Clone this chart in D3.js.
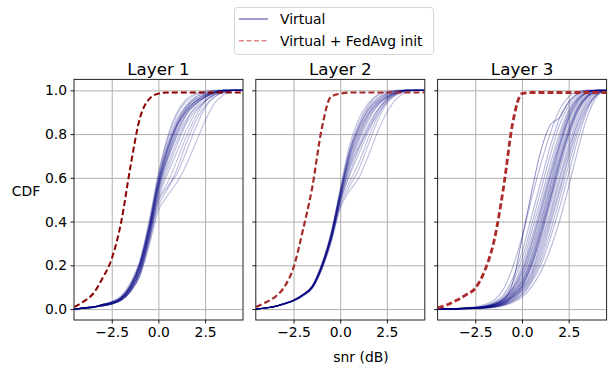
<!DOCTYPE html>
<html>
<head>
<meta charset="utf-8">
<script src="https://cdn.jsdelivr.net/npm/d3@7"></script>
<style>
  body { margin: 0; background: #fff; }
  svg { display: block; font-family: "DejaVu Sans", sans-serif; }
</style>
</head>
<body>
<div class="svg-target"></div>
<script>
// x grid shared by every curve (snr in dB)
const snrGrid = [-4.5, -4, -3.5, -3, -2.5, -2, -1.5, -1, -0.5, 0, 0.5, 1, 1.5, 2, 2.5, 3, 3.5, 4, 4.5];
const layerTitles = ['Layer 1', 'Layer 2', 'Layer 3'];
const xTicks = [-2.5, 0, 2.5];
const yTicks = [0, 0.2, 0.4, 0.6, 0.8, 1.0];
const legendLabels = ['Virtual', 'Virtual + FedAvg init'];

// CDF curves, "Virtual" runs
const virtualL1 = [
  [0,.005,.01,.02,.03,.05,.10,.19,.36,.57,.72,.84,.91,.95,.97,.985,.995,1,1],
  [0,.005,.01,.02,.035,.06,.12,.22,.40,.62,.79,.90,.96,.985,.995,1,1,1,1],
  [0,.005,.01,.02,.03,.05,.11,.21,.38,.60,.76,.87,.93,.97,.985,.995,1,1,1],
  [0,.004,.008,.015,.025,.045,.09,.18,.34,.55,.70,.81,.89,.94,.97,.99,1,1,1],
  [0,.004,.008,.015,.025,.045,.09,.17,.33,.53,.66,.77,.86,.93,.97,.99,1,1,1],
  [0,.004,.008,.015,.025,.04,.08,.16,.31,.49,.56,.62,.72,.83,.92,.97,.99,1,1],
  [0,.004,.008,.015,.025,.04,.08,.16,.32,.50,.58,.68,.79,.88,.95,.98,.995,1,1],
  [0,.005,.01,.02,.03,.05,.10,.20,.37,.58,.74,.85,.92,.96,.98,.99,1,1,1],
  [0,.005,.01,.02,.03,.05,.10,.19,.35,.56,.69,.79,.87,.92,.96,.985,.995,1,1],
  [0,.004,.008,.015,.025,.045,.09,.17,.32,.51,.62,.72,.82,.90,.95,.98,.995,1,1],
  [0,.005,.01,.02,.03,.055,.11,.21,.39,.61,.78,.89,.95,.98,.99,1,1,1,1],
  [0,.004,.008,.015,.025,.04,.085,.17,.33,.52,.64,.75,.85,.91,.95,.98,.99,1,1],
  [0,.005,.01,.02,.03,.05,.10,.20,.37,.58,.73,.85,.92,.96,.98,.99,1,1,1],
  [0,.004,.008,.015,.025,.045,.09,.18,.34,.54,.68,.80,.89,.94,.97,.99,1,1,1],
  [0,.004,.008,.014,.022,.04,.08,.15,.30,.47,.55,.64,.76,.86,.93,.97,.99,1,1],
  [0,.005,.01,.02,.03,.05,.10,.20,.36,.57,.71,.83,.91,.95,.98,.99,1,1,1],
  [0,.005,.01,.02,.03,.05,.105,.20,.37,.59,.75,.86,.93,.97,.985,.995,1,1,1],
  [0,.004,.008,.015,.025,.045,.09,.18,.35,.55,.70,.82,.90,.95,.975,.99,1,1,1],
  [0,.004,.008,.014,.022,.04,.08,.15,.29,.45,.52,.58,.66,.76,.86,.94,.98,1,1],
  [0,.005,.01,.02,.03,.05,.10,.19,.35,.56,.73,.84,.91,.95,.975,.99,1,1,1],
  [0,.005,.01,.02,.032,.055,.11,.21,.38,.59,.74,.84,.90,.94,.97,.99,1,1,1]
];

const virtualL2 = [
  [0,.005,.012,.025,.04,.065,.10,.19,.325,.515,.69,.80,.89,.945,.975,.99,1,1,1],
  [0,.005,.012,.025,.04,.066,.105,.20,.34,.54,.73,.85,.93,.975,.99,1,1,1,1],
  [0,.005,.012,.025,.04,.066,.105,.20,.335,.53,.71,.83,.91,.96,.985,.995,1,1,1],
  [0,.005,.012,.024,.039,.064,.10,.19,.32,.50,.66,.77,.86,.93,.97,.99,1,1,1],
  [0,.005,.011,.023,.037,.06,.095,.18,.31,.47,.56,.64,.75,.86,.94,.98,.995,1,1],
  [0,.005,.011,.023,.038,.062,.097,.185,.315,.49,.61,.71,.81,.90,.96,.985,1,1,1],
  [0,.005,.012,.025,.04,.065,.10,.19,.33,.52,.70,.82,.90,.95,.98,.995,1,1,1],
  [0,.005,.012,.025,.041,.067,.107,.205,.345,.55,.75,.87,.94,.98,.995,1,1,1,1],
  [0,.005,.011,.023,.037,.06,.095,.18,.30,.46,.54,.60,.70,.81,.90,.96,.99,1,1],
  [0,.005,.012,.024,.039,.063,.10,.19,.32,.50,.65,.75,.84,.91,.96,.985,.995,1,1],
  [0,.005,.012,.025,.04,.065,.10,.19,.33,.52,.68,.79,.88,.94,.97,.99,1,1,1],
  [0,.005,.012,.025,.04,.066,.103,.195,.335,.53,.72,.84,.92,.965,.985,.995,1,1,1],
  [0,.005,.011,.024,.038,.062,.098,.185,.315,.49,.62,.73,.83,.91,.96,.99,1,1,1],
  [0,.005,.012,.025,.04,.065,.10,.19,.325,.51,.67,.78,.87,.93,.97,.99,1,1,1],
  [0,.005,.011,.023,.037,.06,.096,.18,.305,.48,.58,.67,.78,.88,.95,.985,1,1,1],
  [0,.005,.012,.025,.04,.066,.104,.20,.34,.535,.72,.83,.91,.955,.98,.995,1,1,1],
  [0,.005,.012,.024,.039,.064,.10,.19,.32,.50,.64,.74,.82,.89,.95,.98,.995,1,1],
  [0,.005,.012,.025,.04,.065,.10,.195,.33,.52,.70,.81,.89,.94,.97,.99,1,1,1]
];

const virtualL3 = [
  [0,0,.003,.006,.01,.02,.04,.09,.19,.33,.50,.66,.80,.91,.97,.995,1,1,1],
  [0,0,.002,.005,.008,.015,.03,.065,.14,.26,.42,.58,.74,.87,.95,.985,1,1,1],
  [0,0,.002,.004,.007,.013,.027,.055,.12,.23,.38,.54,.70,.84,.93,.98,1,1,1],
  [0,0,.002,.004,.007,.012,.025,.05,.10,.20,.35,.50,.66,.80,.91,.97,.995,1,1],
  [0,0,.002,.004,.006,.011,.023,.047,.095,.18,.32,.47,.63,.78,.90,.965,.99,1,1],
  [0,0,.002,.004,.006,.011,.022,.045,.09,.17,.30,.45,.61,.76,.89,.96,.99,1,1],
  [0,0,.002,.004,.006,.01,.02,.04,.08,.15,.27,.42,.58,.74,.87,.95,.99,1,1],
  [0,0,.002,.003,.005,.01,.019,.038,.075,.14,.26,.40,.56,.73,.87,.95,.99,1,1],
  [0,0,.002,.003,.005,.009,.018,.035,.07,.13,.24,.39,.55,.71,.85,.94,.985,1,1],
  [0,0,.001,.003,.005,.008,.016,.032,.065,.12,.22,.36,.52,.68,.82,.92,.975,.995,1],
  [0,0,.001,.003,.005,.008,.015,.03,.06,.11,.21,.35,.50,.66,.80,.91,.97,.995,1],
  [0,0,.001,.003,.004,.008,.014,.028,.058,.105,.20,.33,.49,.65,.80,.91,.97,.995,1],
  [0,0,.001,.003,.004,.007,.013,.027,.055,.10,.19,.32,.47,.63,.78,.90,.97,.995,1],
  [0,0,.001,.002,.004,.007,.012,.025,.05,.095,.17,.30,.44,.60,.75,.88,.96,.99,1],
  [0,0,.001,.002,.004,.006,.012,.024,.05,.09,.16,.28,.42,.58,.73,.86,.95,.99,1],
  [0,0,.001,.002,.003,.006,.011,.022,.045,.085,.15,.26,.40,.55,.71,.85,.94,.985,1],
  [0,0,.001,.002,.003,.005,.01,.02,.04,.08,.14,.24,.38,.53,.69,.83,.93,.98,1],
  [0,0,.001,.002,.003,.005,.01,.019,.038,.07,.13,.22,.35,.50,.66,.81,.92,.98,1],
  [0,0,.001,.002,.003,.005,.009,.018,.035,.065,.12,.20,.32,.46,.62,.78,.91,.98,1],
  [0,0,.001,.002,.003,.004,.008,.015,.03,.055,.10,.17,.27,.40,.56,.73,.88,.97,1],
  [0,0,.002,.004,.006,.011,.021,.043,.085,.16,.29,.44,.60,.75,.88,.96,.99,1,1],
  [0,0,.001,.003,.005,.009,.017,.034,.068,.125,.23,.37,.53,.69,.83,.93,.98,1,1],
  [0,0,.001,.003,.004,.008,.014,.029,.06,.11,.20,.34,.50,.67,.81,.92,.975,.995,1]
];
// one run in layer 3 that stands out from the bundle
const virtualL3Outlier = [0,0,.002,.004,.006,.01,.02,.04,.12,.32,.53,.72,.84,.875,.945,.985,.995,1,1];

// CDF curves, "Virtual + FedAvg init"
const fedavgL1 = [.01,.035,.07,.14,.23,.395,.65,.87,.96,.985,.99,.99,.99,.99,.99,.99,.99,.99,.99];
const fedavgL2 = [.01,.03,.055,.10,.19,.36,.555,.82,.97,.985,.99,.99,.99,.99,.99,.99,.99,.99,.99];
const fedavgL3 = [.005,.02,.04,.065,.095,.175,.31,.55,.85,.985,.99,.99,.99,.99,.99,.99,.99,.99,.99];

const panels = [
    { title: layerTitles[0], virtual: virtualL1, fedavg: fedavgL1 },
    { title: layerTitles[1], virtual: virtualL2, fedavg: fedavgL2 },
    { title: layerTitles[2], virtual: virtualL3, fedavg: fedavgL3, outlier: virtualL3Outlier }
];

const w = 611;
const h = 371;
const panelW = 169;
const panelTop = 79.4;
const panelBottom = 320;
const panelLefts = [74, 255.8, 437.6];
const fedColors = ['#8b0000', '#a52a2a', '#ad2a2a'];
const fedWidths = [2, 2.2, 2.8];
const virtualOpacity = [0.24, 0.24, 0.27];
const fontTick = '13.9px';

const svg = d3.select('.svg-target')
    .append('svg')
    .attr('width', w)
    .attr('height', h);

const yScale = d3.scaleLinear()
    .domain([-0.05, 1.05])
    .range([panelBottom, panelTop]);

panels.forEach((p, i) => {
    const left = panelLefts[i];
    const xScale = d3.scaleLinear()
        .domain([-4.52, 4.53])
        .range([left, left + panelW]);

    const g = svg.append('g');

    // clip
    g.append('clipPath').attr('id', 'clip' + i)
        .append('rect')
        .attr('x', left).attr('y', panelTop)
        .attr('width', panelW).attr('height', panelBottom - panelTop);

    // grid
    const gx = g.append('g')
        .attr('transform', `translate(0, ${panelBottom})`)
        .call(d3.axisBottom(xScale).tickValues(xTicks).tickSize(-(panelBottom - panelTop)).tickFormat(''));
    const gy = g.append('g')
        .attr('transform', `translate(${left}, 0)`)
        .call(d3.axisLeft(yScale).tickValues(yTicks).tickSize(-panelW).tickFormat(''));
    [gx, gy].forEach(a => {
        a.select('.domain').remove();
        a.selectAll('line').attr('stroke', '#b0b0b0').attr('stroke-width', 1);
    });

    const line = d3.line()
        .x((d, j) => xScale(snrGrid[j]))
        .y(d => yScale(d))
        .curve(d3.curveMonotoneX);

    const plot = g.append('g').attr('clip-path', `url(#clip${i})`);

    plot.selectAll('path.virtual')
        .data(p.virtual)
        .enter()
        .append('path')
            .attr('class', 'virtual')
            .attr('d', line)
            .attr('fill', 'none')
            .attr('stroke', '#000080')
            .attr('stroke-opacity', virtualOpacity[i])
            .attr('stroke-width', 1.2);

    if (p.outlier) {
        plot.append('path')
            .attr('d', line(p.outlier))
            .attr('fill', 'none')
            .attr('stroke', '#000080')
            .attr('stroke-opacity', 0.45)
            .attr('stroke-width', 1);
    }

    plot.append('path')
        .attr('d', line(p.fedavg))
        .attr('fill', 'none')
        .attr('stroke', fedColors[i])
        .attr('stroke-width', fedWidths[i])
        .attr('stroke-dasharray', '6,3');

    // spines
    g.append('rect')
        .attr('x', left).attr('y', panelTop)
        .attr('width', panelW).attr('height', panelBottom - panelTop)
        .attr('fill', 'none')
        .attr('stroke', '#222')
        .attr('stroke-width', 1);

    // axes
    const xAxis = g.append('g')
        .attr('transform', `translate(0, ${panelBottom})`)
        .call(d3.axisBottom(xScale).tickValues(xTicks).tickSize(3.5).tickPadding(3.5).tickFormat(d3.format('.1f')));
    const yAxis = g.append('g')
        .attr('transform', `translate(${left}, 0)`)
        .call(d3.axisLeft(yScale).tickValues(yTicks).tickSize(3.5).tickPadding(3.5)
            .tickFormat(i === 0 ? d3.format('.1f') : ''));
    [xAxis, yAxis].forEach(a => {
        a.select('.domain').remove();
        a.selectAll('line').attr('stroke', '#000').attr('stroke-width', 0.9);
        a.selectAll('text')
            .attr('fill', '#000')
            .style('font-size', fontTick)
            .style('font-family', '"DejaVu Sans", sans-serif');
    });

    // title
    g.append('text')
        .attr('x', left + panelW / 2)
        .attr('y', 75)
        .attr('text-anchor', 'middle')
        .style('font-size', '16.7px')
        .text(p.title);
});

// axis labels
svg.append('text')
    .attr('x', 26)
    .attr('y', 196)
    .attr('text-anchor', 'middle')
    .style('font-size', fontTick)
    .text('CDF');

svg.append('text')
    .attr('x', 361)
    .attr('y', 362)
    .attr('text-anchor', 'middle')
    .style('font-size', fontTick)
    .text('snr (dB)');

// legend
const legend = svg.append('g');
legend.append('rect')
    .attr('x', 234.5).attr('y', 7.5)
    .attr('width', 199).attr('height', 47)
    .attr('rx', 3)
    .attr('fill', '#fff')
    .attr('stroke', '#d6d6d6')
    .attr('stroke-width', 1);

const legendY = [19, 40.7];
legend.append('line')
    .attr('x1', 239).attr('x2', 268)
    .attr('y1', legendY[0]).attr('y2', legendY[0])
    .attr('stroke', '#000080').attr('stroke-opacity', 0.5).attr('stroke-width', 1.5);
legend.append('line')
    .attr('x1', 239).attr('x2', 268)
    .attr('y1', legendY[1]).attr('y2', legendY[1])
    .attr('stroke', '#e08484').attr('stroke-width', 1.5)
    .attr('stroke-dasharray', '5,2.5');

legend.selectAll('text.lab')
    .data(legendLabels)
    .enter()
    .append('text')
        .attr('class', 'lab')
        .attr('x', 280)
        .attr('y', (d, k) => legendY[k] + 5)
        .style('font-size', fontTick)
        .text(d => d);
</script>
</body>
</html>
